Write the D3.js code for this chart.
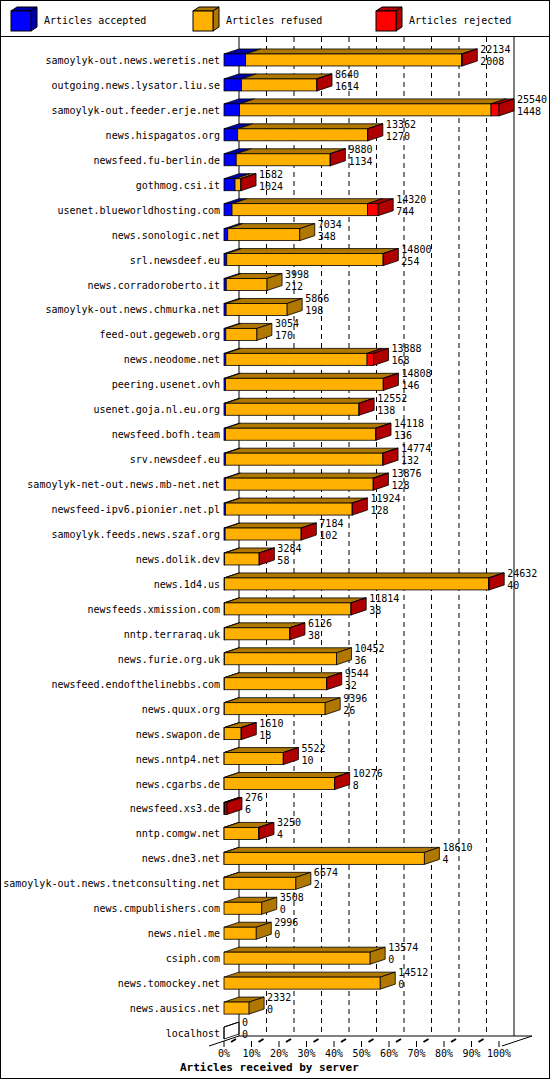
<!DOCTYPE html>
<html><head><meta charset="utf-8">
<script src="https://cdn.jsdelivr.net/npm/d3@7"></script>
<style>body{margin:0;background:#fff}svg text{font-family:"DejaVu Sans Mono",monospace;font-size:10px}</style>
</head><body><div id="plot"></div>
<script>
const servers = ["samoylyk-out.news.weretis.net","outgoing.news.lysator.liu.se","samoylyk-out.feeder.erje.net","news.hispagatos.org","newsfeed.fu-berlin.de","gothmog.csi.it","usenet.blueworldhosting.com","news.sonologic.net","srl.newsdeef.eu","news.corradoroberto.it","samoylyk-out.news.chmurka.net","feed-out.gegeweb.org","news.neodome.net","peering.usenet.ovh","usenet.goja.nl.eu.org","newsfeed.bofh.team","srv.newsdeef.eu","samoylyk-net-out.news.mb-net.net","newsfeed-ipv6.pionier.net.pl","samoylyk.feeds.news.szaf.org","news.dolik.dev","news.1d4.us","newsfeeds.xmission.com","nntp.terraraq.uk","news.furie.org.uk","newsfeed.endofthelinebbs.com","news.quux.org","news.swapon.de","news.nntp4.net","news.cgarbs.de","newsfeed.xs3.de","nntp.comgw.net","news.dne3.net","samoylyk-out.news.tnetconsulting.net","news.cmpublishers.com","news.niel.me","csiph.com","news.tomockey.net","news.ausics.net","localhost"];
const offered = [22134,8640,25540,13362,9880,1582,14320,7034,14800,3998,5866,3054,13888,14808,12552,14118,14774,13876,11924,7184,3284,24632,11814,6126,10452,9544,9396,1610,5522,10276,276,3250,18610,6674,3508,2996,13574,14512,2332,0];
const accepted = [2008,1614,1448,1270,1134,1024,744,348,254,212,198,170,168,146,138,136,132,128,128,102,58,40,38,38,36,32,26,18,10,8,6,4,4,2,0,0,0,0,0,0];
const rejected = [60,20,740,20,20,20,1000,0,20,0,0,0,600,20,20,20,20,20,20,20,20,60,20,20,0,20,0,20,20,20,200,20,0,0,0,0,0,0,0,0];
const legendNames = ["Articles accepted","Articles refused","Articles rejected"];
const percentTicks = [0,10,20,30,40,50,60,70,80,90,100];

const W = 550, H = 1080, DX = 15, DY = 5, BH = 12;
const front = ["#0000ff","#ffb000","#ff0000"];
const dark = ["#0000a8","#b07800","#b00000"];

const svg = d3.select("#plot").append("svg").attr("width", W).attr("height", H);
svg.append("rect").attr("x",0.5).attr("y",0.5).attr("width",W-1).attr("height",H-2)
  .attr("fill","none").attr("stroke","#000");
svg.append("line").attr("x1",0).attr("x2",W).attr("y1",36.5).attr("y2",36.5).attr("stroke","#000");

// legend
const lx = [11,193,376];
legendNames.forEach((n,i)=>{
  const g = svg.append("g").attr("transform",`translate(${lx[i]},11)`);
  g.append("polygon").attr("points","0,0 6,-4 26,-4 20,0").attr("fill",dark[i]).attr("stroke","#000");
  g.append("polygon").attr("points","20,0 26,-4 26,16 20,20").attr("fill",dark[i]).attr("stroke","#000");
  g.append("rect").attr("width",20).attr("height",20).attr("fill",front[i]).attr("stroke","#000");
  g.append("text").attr("x",33).attr("y",13).text(n);
});

const maxV = d3.max(offered);
const x = d3.scaleLinear().domain([0,maxV]).range([224,499]);
const xp = d3.scaleLinear().domain([0,100]).range([224,499]);
const y = d3.scaleBand().domain(servers).range([47.5,1045.5]);
const cy = d => y(d) + y.bandwidth()/2;

// back wall
const wallTop = 37, floorY = 1036;
percentTicks.forEach(p=>{
  svg.append("line").attr("x1",xp(p)+DX).attr("x2",xp(p)+DX).attr("y1",wallTop).attr("y2",floorY)
    .attr("stroke","#000").attr("stroke-dasharray",(p==0||p==100)?null:"5,4");
});

// bars
servers.forEach((s,i)=>{
  const refused = Math.max(0, offered[i]-accepted[i]-rejected[i]);
  const parts = [accepted[i], refused, rejected[i]];
  const y0 = cy(s) - BH/2;
  let acc = 0, last = 1;
  const g = svg.append("g");
  parts.forEach((v,k)=>{
    if (v<=0) return;
    const a = x(acc), b = x(acc+v);
    g.append("polygon").attr("points",`${a},${y0} ${a+DX},${y0-DY} ${b+DX},${y0-DY} ${b},${y0}`)
      .attr("fill",dark[k]).attr("stroke","#000").attr("stroke-width",0.8);
    g.append("rect").attr("x",a).attr("y",y0).attr("width",b-a).attr("height",BH)
      .attr("fill",front[k]).attr("stroke","#000").attr("stroke-width",0.8);
    acc += v; last = k;
  });
  const e = x(acc);
  if (acc===0) {
    g.append("line").attr("x1",e).attr("x2",e+DX).attr("y1",y0).attr("y2",y0-DY).attr("stroke","#000");
    g.append("line").attr("x1",e).attr("x2",e).attr("y1",y0).attr("y2",y0+BH).attr("stroke","#000");
  }
  g.append("polygon").attr("points",`${e},${y0} ${e+DX},${y0-DY} ${e+DX},${y0+BH-DY} ${e},${y0+BH}`)
    .attr("fill",acc===0?"none":dark[last]).attr("stroke","#000").attr("stroke-width",0.8);
  svg.append("text").attr("x",220).attr("y",cy(s)+4).attr("text-anchor","end").text(s);
  svg.append("text").attr("x",e+DX+3).attr("y",cy(s)-7).text(offered[i]);
  svg.append("text").attr("x",e+DX+3).attr("y",cy(s)+5).text(accepted[i]);
});

// floor
svg.append("polyline").attr("points",`209,1046 239,${floorY} 532,${floorY} 502,1046`)
  .attr("fill","none").attr("stroke","#000");
percentTicks.forEach(p=>{
  const X = xp(p);
  svg.append("line").attr("x1",X).attr("x2",X).attr("y1",1041).attr("y2",1047).attr("stroke","#000");
  if (p<100) svg.append("line").attr("x1",X+7).attr("x2",X+12).attr("y1",1042).attr("y2",1039)
    .attr("stroke","#000").attr("stroke-width",2);
  svg.append("text").attr("x",X).attr("y",1057).attr("text-anchor","middle").text(p+"%");
});
svg.append("text").attr("x",180).attr("y",1071).attr("font-weight","bold")
  .style("font-size","11px").text("Articles received by server");
</script></body></html>
